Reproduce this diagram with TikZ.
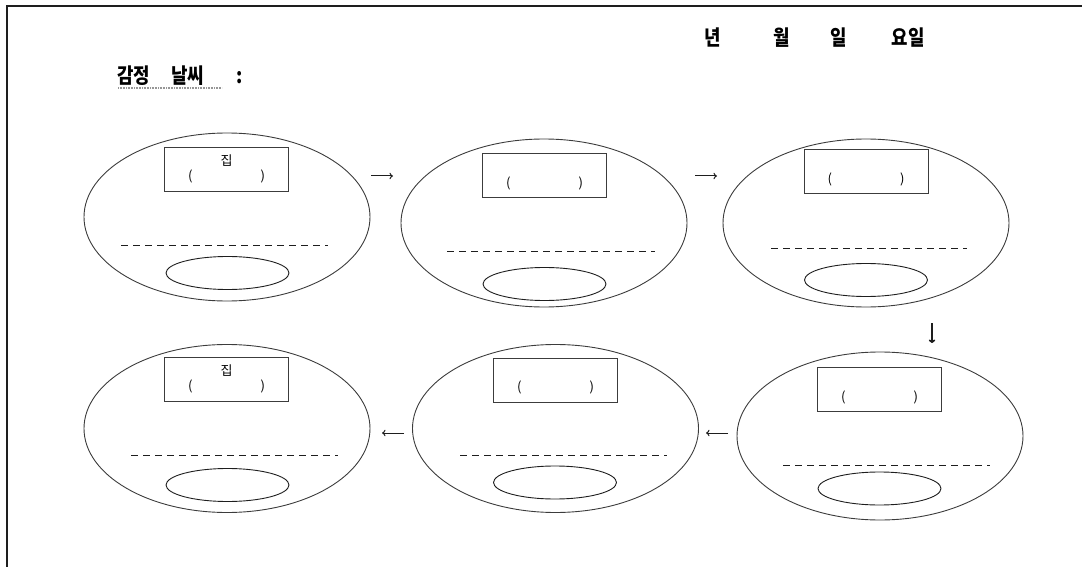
\documentclass[tikz,border=0pt]{standalone}
\usepackage{fontspec}
\usepackage{xcolor}
\usepackage{tikz}
\usetikzlibrary{shapes.geometric, arrows.meta, positioning}
\newfontfamily\kr{Noto Sans CJK KR}
\definecolor{mydark}{RGB}{30,30,30}
\definecolor{myline}{RGB}{60,60,60}
\definecolor{mygray}{RGB}{150,150,150}
\tikzset{
  dayoval/.style={ellipse, draw=myline, line width=0.9pt, inner sep=0pt,
    minimum width=286pt, minimum height=168pt},
  feelbox/.style={rectangle, draw=myline, line width=0.9pt, inner sep=0pt,
    minimum width=124pt, minimum height=44pt, align=center,
    font=\kr\fontsize{13}{15}\selectfont},
  faceoval/.style={ellipse, draw=mydark, line width=0.9pt, inner sep=0pt,
    minimum width=123pt, minimum height=33pt},
  writeline/.style={dash pattern=on 7pt off 5pt, draw=mydark, line width=0.8pt},
  heading/.style={font=\kr\bfseries\fontsize{21}{24}\selectfont,
    anchor=west, inner sep=0pt, xscale=0.85},
  arrow/.style={-{To[length=3.5pt,width=6.5pt]}, line width=1pt, color=mydark},
  frame/.style={line width=1.3pt, color=mydark}
}

\begin{document}
\begin{tikzpicture}[x=1pt, y=-1pt]
  \useasboundingbox (0,0) rectangle (1082,567);

  % Page frame
  \draw[frame] (7,567) -- (7,6) -- (1082,6);

  % Headings
  \node[heading] (feel) at (117,76) {감정\hspace{25pt}날씨\hspace{38pt}:};
  \draw[mygray, line width=1.4pt, dash pattern=on 0.8pt off 0.8pt] (118,88) -- (222,88);
  \node[heading] (date) at (704,38) {년\hspace{62pt}월\hspace{48pt}일\hspace{53pt}요일};

  % Top row
  \node[dayoval] (e1) at (227,217) {};
  \node[feelbox] (b1) at (226.5,169) {집\\(\hspace{68pt})};
  \draw[writeline] (121,245) -- (328,245);
  \node[faceoval] (s1) at (227.5,273) {};

  \node[dayoval] (e2) at (544,223) {};
  \node[feelbox] (b2) at (544.5,175.5) {\phantom{집}\\(\hspace{68pt})};
  \draw[writeline] (447,251) -- (655,251);
  \node[faceoval] (s2) at (544.5,284) {};

  \node[dayoval] (e3) at (866,223) {};
  \node[feelbox] (b3) at (866,171.5) {\phantom{집}\\(\hspace{68pt})};
  \draw[writeline] (771,248) -- (967,248);
  \node[faceoval] (s3) at (866,280) {};

  % Bottom row
  \node[dayoval] (e4) at (880,436) {};
  \node[feelbox] (b4) at (879.5,389.5) {\phantom{집}\\(\hspace{68pt})};
  \draw[writeline] (783,465) -- (990,465);
  \node[faceoval] (s4) at (879.5,488.5) {};

  \node[dayoval] (e5) at (555.5,428.5) {};
  \node[feelbox] (b5) at (555.5,380) {\phantom{집}\\(\hspace{68pt})};
  \draw[writeline] (460,455) -- (667,455);
  \node[faceoval] (s5) at (555,482.5) {};

  \node[dayoval] (e6) at (227,428.5) {};
  \node[feelbox] (b6) at (226.5,379) {집\\(\hspace{68pt})};
  \draw[writeline] (131,455) -- (338,455);
  \node[faceoval] (s6) at (227.5,485) {};

  % Arrows between days
  \coordinate (a1s) at (371,176); \coordinate (a1e) at (393,176);
  \coordinate (a2s) at (695,176); \coordinate (a2e) at (717,176);
  \coordinate (a3s) at (932,323); \coordinate (a3e) at (932,343);
  \coordinate (a4s) at (728,433); \coordinate (a4e) at (706,433);
  \coordinate (a5s) at (404,433); \coordinate (a5e) at (382,433);
  \draw[arrow] (a1s) -- (a1e);
  \draw[arrow] (a2s) -- (a2e);
  \draw[arrow, line width=1.6pt] (a3s) -- (a3e);
  \draw[arrow] (a4s) -- (a4e);
  \draw[arrow] (a5s) -- (a5e);
\end{tikzpicture}
\end{document}
